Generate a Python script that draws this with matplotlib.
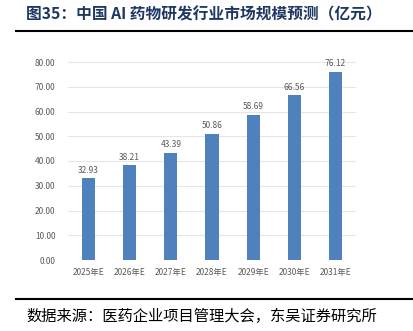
"""中国 AI 药物研发行业市场规模预测 柱状图."""

import matplotlib
matplotlib.use("Agg")
import matplotlib.pyplot as plt
from matplotlib.lines import Line2D

plt.rcParams["font.family"] = ["Noto Sans CJK SC", "DejaVu Sans"]

years = ["2025年E", "2026年E", "2027年E", "2028年E", "2029年E", "2030年E", "2031年E"]
values = [32.93, 38.21, 43.39, 50.86, 58.69, 66.56, 76.12]
yticks = [0, 10, 20, 30, 40, 50, 60, 70, 80]

BAR_COLOR = "#4f81bd"
TEXT_GREY = "#595959"
TITLE_COLOR = "#1f3763"

W, H = 413, 331
fig = plt.figure(figsize=(W / 100, H / 100), dpi=100)
fig.patch.set_facecolor("white")

# 绘图区域 (像素换算为 figure 比例)
left, right, top, bottom = 68, 356, 62, 260
ax = fig.add_axes([left / W, 1 - bottom / H, (right - left) / W, (bottom - top) / H])

x = range(len(years))
bars = ax.bar(x, values, width=0.32, color=BAR_COLOR, zorder=3)
for bar, v in zip(bars, values):
    ax.text(bar.get_x() + bar.get_width() / 2, v + 1.5, f"{v:.2f}",
            ha="center", va="bottom", fontsize=6, color=TEXT_GREY)

ax.set_xlim(-0.5, len(years) - 0.5)
ax.set_ylim(0, 80)
ax.set_yticks(yticks)
ax.set_yticklabels([f"{t:.2f}" for t in yticks])
ax.set_xticks(list(x))
ax.set_xticklabels(years)
ax.tick_params(axis="both", length=0, labelsize=6, labelcolor=TEXT_GREY)
ax.tick_params(axis="y", pad=9)
ax.tick_params(axis="x", pad=6)
ax.grid(axis="y", color="#e6e6e6", linewidth=0.8, zorder=0)
for s in ax.spines.values():
    s.set_visible(False)

# 标题与来源
fig.text(26 / W, 1 - 14 / H, "图35：中国 AI 药物研发行业市场规模预测（亿元）",
         ha="left", va="center", fontsize=11.3, weight="bold", color=TITLE_COLOR)
fig.add_artist(Line2D([16 / W, 1], [1 - 31 / H] * 2, color="black", linewidth=1.5))
fig.add_artist(Line2D([16 / W, 1], [1 - 299 / H] * 2, color="black", linewidth=1.5))
fig.text(26 / W, 1 - 316 / H, "数据来源：医药企业项目管理大会，东吴证券研究所",
         ha="left", va="center", fontsize=11, color="black")

fig.savefig("out.png", dpi=100)
